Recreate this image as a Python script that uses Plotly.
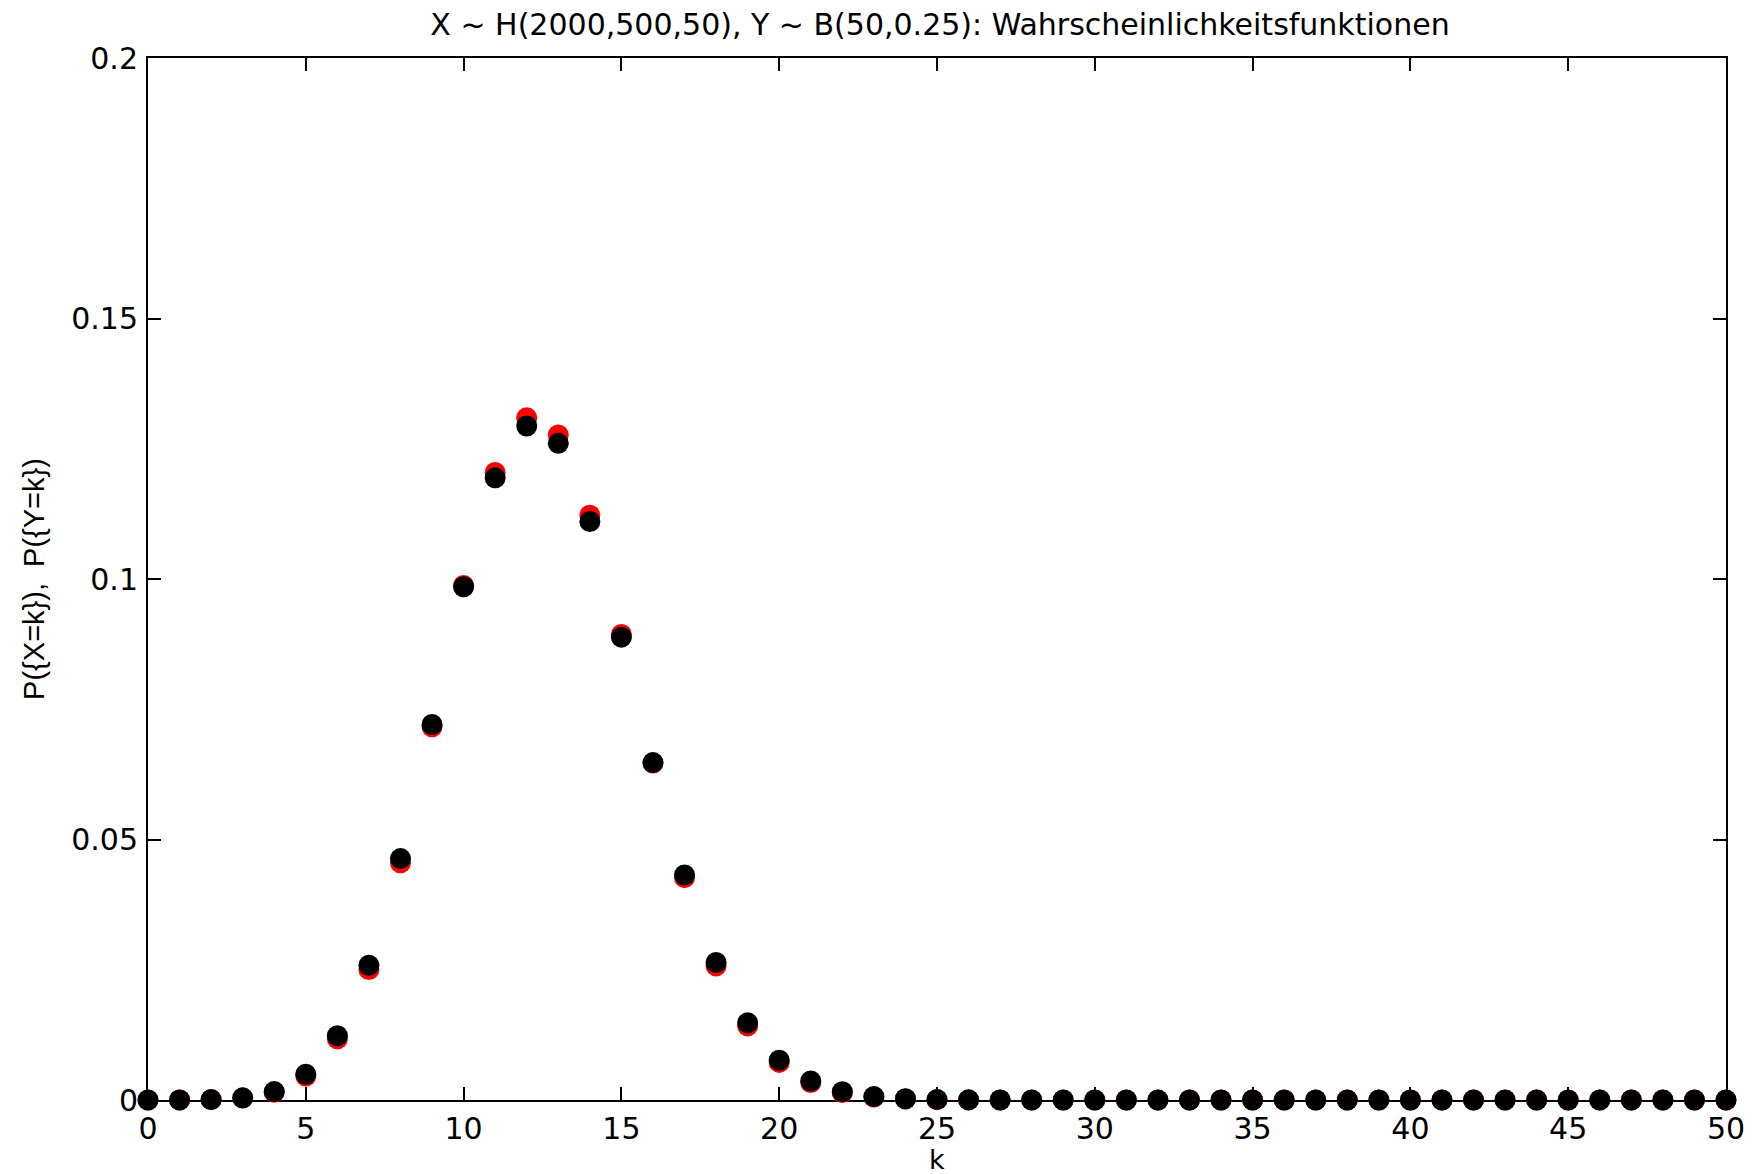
import plotly.graph_objects as go

# k values
k_values = [0, 1, 2, 3, 4, 5, 6, 7, 8, 9, 10, 11, 12, 13, 14, 15, 16, 17, 18, 19, 20,
            21, 22, 23, 24, 25, 26, 27, 28, 29, 30, 31, 32, 33, 34, 35, 36, 37, 38, 39, 40,
            41, 42, 43, 44, 45, 46, 47, 48, 49, 50]

# P({X=k}), X ~ H(2000,500,50)  (red)
p_hyper = [0.0000005, 0.0000079, 0.0000667, 0.000366, 0.001469, 0.004609, 0.011751,
           0.025043, 0.045515, 0.071625, 0.098760, 0.120446, 0.130930, 0.127661,
           0.112233, 0.089358, 0.064667, 0.042672, 0.025740, 0.014224, 0.007214,
           0.003364, 0.001443, 0.000570, 0.000208, 0.0000697, 0.0000216, 0.0000062,
           0.0000016, 0.0, 0.0, 0.0, 0.0, 0.0, 0.0, 0.0, 0.0, 0.0, 0.0, 0.0, 0.0,
           0.0, 0.0, 0.0, 0.0, 0.0, 0.0, 0.0, 0.0, 0.0, 0.0]

# P({Y=k}), Y ~ B(50,0.25)  (black)
p_binom = [0.0000006, 0.0000094, 0.0000771, 0.000411, 0.001610, 0.004937, 0.01234,
           0.02586, 0.04634, 0.07208, 0.09851, 0.11941, 0.12936, 0.12604, 0.11104,
           0.08883, 0.06477, 0.04318, 0.02639, 0.01481, 0.00765, 0.003645, 0.001602,
           0.000650, 0.000244, 0.0000845, 0.0000271, 0.0000080, 0.0000022, 0.0000006,
           0.0, 0.0, 0.0, 0.0, 0.0, 0.0, 0.0, 0.0, 0.0, 0.0, 0.0,
           0.0, 0.0, 0.0, 0.0, 0.0, 0.0, 0.0, 0.0, 0.0, 0.0]

x_ticks = [0, 5, 10, 15, 20, 25, 30, 35, 40, 45, 50]
x_tick_labels = ["0", "5", "10", "15", "20", "25", "30", "35", "40", "45", "50"]
y_ticks = [0, 0.05, 0.1, 0.15, 0.2]
y_tick_labels = ["0", "0.05", "0.1", "0.15", "0.2"]

title_text = "X ~ H(2000,500,50), Y ~ B(50,0.25): Wahrscheinlichkeitsfunktionen"
x_title = "k"
y_title = "P({X=k}),  P({Y=k})"

FONT_H = "DejaVu Sans, sans-serif"          # horizontal texts (wide look)
FONT_V = "Liberation Sans, Arial, sans-serif"  # rotated y title
FS = 30

fig = go.Figure()
fig.add_trace(go.Scatter(
    x=k_values, y=p_hyper, mode="markers", name="H",
    marker=dict(symbol="circle", size=21, color="#ff0000", line=dict(width=0)),
    cliponaxis=False, showlegend=False,
))
fig.add_trace(go.Scatter(
    x=k_values, y=p_binom, mode="markers", name="B",
    marker=dict(symbol="circle", size=21, color="#000000", line=dict(width=0)),
    cliponaxis=False, showlegend=False,
))

fig.update_layout(
    width=1760, height=1174,
    margin=dict(l=140, r=42, t=50, b=82),
    paper_bgcolor="white", plot_bgcolor="white",
    font=dict(family=FONT_H, size=FS, color="black"),
    title=dict(text=title_text, x=932 / 1760, xanchor="center", y=1 - 16 / 1174,
               yanchor="middle", font=dict(family=FONT_H, size=FS, color="black")),
    annotations=[dict(text=x_title, xref="paper", yref="paper", x=0.5, y=-59 / 1042,
                      xanchor="center", yanchor="middle", showarrow=False, borderpad=0,
                      font=dict(family=FONT_H, size=27, color="black"))],
)

fig.update_xaxes(
    range=[0, 50], tickvals=x_ticks, ticktext=x_tick_labels,
    showgrid=False, zeroline=False, automargin=False,
    showline=True, linecolor="black", linewidth=2, mirror="allticks",
    ticks="inside", ticklen=13, tickwidth=1.5, tickcolor="black",
    ticklabelstandoff=1,
    layer="below traces",
    tickfont=dict(family=FONT_H, size=FS),
)
fig.update_yaxes(
    range=[0, 0.2], tickvals=y_ticks, ticktext=y_tick_labels,
    showgrid=False, zeroline=False, automargin=False,
    showline=True, linecolor="black", linewidth=2, mirror="allticks",
    ticks="inside", ticklen=13, tickwidth=1.5, tickcolor="black",
    ticklabelstandoff=2,
    layer="below traces",
    title=dict(text=y_title, standoff=18, font=dict(family=FONT_V, size=29)),
    tickfont=dict(family=FONT_H, size=FS),
)

fig.write_html("out.html")
